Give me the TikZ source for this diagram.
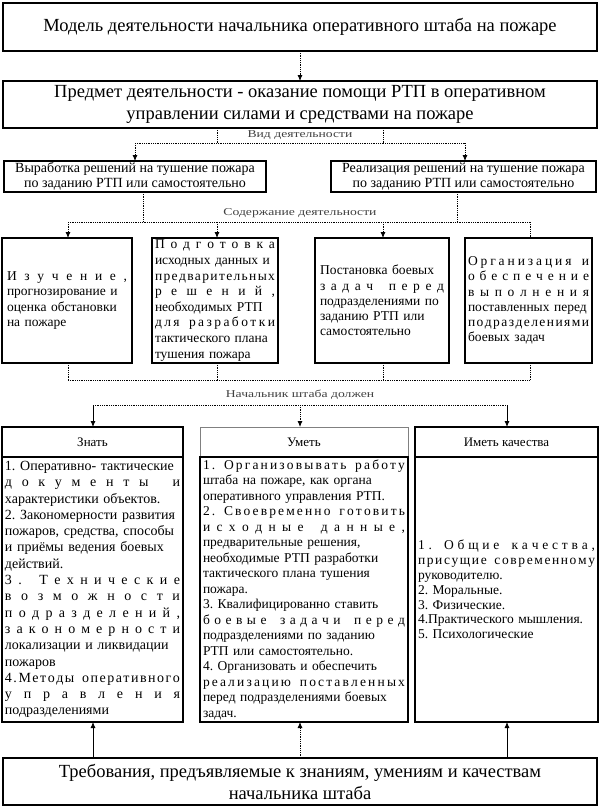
\documentclass[tikz,border=0pt]{standalone}
\usepackage{fontspec}
\setmainfont{Liberation Serif}
\usepackage{graphicx}
\usetikzlibrary{arrows.meta,positioning}
\frenchspacing

% justified line / letter-spread line
\newcommand\jl[1]{\makebox[\linewidth][s]{#1}}
\makeatletter
\def\spr@end{}
\newcommand\spr[1]{\makebox[\linewidth][s]{\spr@a#1\spr@end}}
\def\spr@a#1{#1\futurelet\spr@next\spr@b}
\def\spr@b{\ifx\spr@next\spr@end\expandafter\@gobble\else\hfill\expandafter\spr@a\fi}
\makeatother

\begin{document}
\begin{tikzpicture}[x=1pt,y=-1pt,
   box/.style={draw,line width=2.4pt,outer sep=0pt,inner sep=0pt,align=center},
   big/.style={box,minimum width=594pt,font=\fontsize{18.5}{22}\selectfont},
   mid/.style={box,minimum height=31pt,font=\fontsize{14}{14.5}\selectfont},
   card/.style={box,minimum height=125pt,align=left,font=\fontsize{13.5}{15.2}\selectfont},
   head/.style={box,minimum height=30pt,font=\fontsize{13}{15}\selectfont},
   body/.style={box,minimum height=265pt,align=left,inner xsep=3pt},
   lbl/.style={inner sep=1pt,text=black!75,font=\fontsize{10.5}{12}\selectfont},
   link/.style={densely dotted,line width=0.8pt},
   plain/.style={line width=0.8pt},
   tip/.style={-{Latex[length=6pt,width=5pt]}}]
  \fill[white] (0,0) rectangle (601,808);
  \useasboundingbox (0,0) rectangle (601,808);

  \node[big,minimum height=48pt] (model) at (300,27)
    {Модель деятельности начальника оперативного штаба на пожаре};
  \node[big,minimum height=47pt] (subj) at (300,104.5)
    {Предмет деятельности - оказание помощи РТП в оперативном\\управлении силами и средствами на пожаре};
  \draw[link,tip] (model) -- (subj);

  % kind of activity
  \node[mid,minimum width=262pt] (dev) at (135,176.5)
    {Выработка решений на тушение пожара\\по заданию РТП или самостоятельно};
  \node[mid,minimum width=265pt] (impl) at (463.5,176.5)
    {Реализация решений на тушение пожара\\по заданию РТП или самостоятельно};
  \node[lbl] (kind) at (300,135.5) {\scalebox{1.3}[1]{Вид деятельности}};
  \coordinate (kl) at (217,143);
  \coordinate (kr) at (383,143);
  \coordinate (ka) at (135,143);
  \coordinate (kb) at (465,143);
  \draw[link] (subj.south -| kl) -- (kl);
  \draw[link] (subj.south -| kr) -- (kr);
  \draw[link] (ka) -- (kb);
  \draw[link,tip] (ka) -- (dev.north -| ka);
  \draw[link,tip] (kb) -- (impl.north -| kb);

  % content of activity
  \node[card,text width=120pt,inner xsep=5pt] (study) at (67,300.5)
    {\spr{Изучение,}\\
     \jl{прогнозирование и}\\
     \jl{оценка обстановки}\\
     на пожаре};
  \node[card,text width=120pt,inner xsep=3pt,font=\fontsize{13.5}{15.6}\selectfont] (prep) at (215,300.5)
    {\spr{Подготовка}\\
     \jl{исходных данных и}\\
     \spr{предварительных}\\
     \spr{решений,}\\
     \jl{необходимых РТП}\\
     \spr{для~разработки}\\
     \jl{тактического плана}\\
     тушения пожара};
  \node[card,text width=124pt,inner xsep=5pt] (task) at (382,300.5)
    {\jl{Постановка боевых}\\
     \spr{задач~перед}\\
     \jl{подразделениями по}\\
     \jl{заданию РТП или}\\
     самостоятельно};
  \node[card,text width=121pt,inner xsep=3pt] (org) at (528.5,300.5)
    {\spr{Организация~и}\\
     \spr{обеспечение}\\
     \spr{выполнения}\\
     \jl{поставленных перед}\\
     \spr{подразделениями}\\
     боевых задач};
  \node[lbl] (cont) at (300,213) {\scalebox{1.3}[1]{Содержание деятельности}};
  \coordinate (d1) at (143,222);
  \coordinate (d2) at (457,222);
  \coordinate (c1) at (68,222);
  \coordinate (c2) at (217,222);
  \coordinate (c3) at (383,222);
  \coordinate (c4) at (530,222);
  \draw[link] (dev.south -| d1) -- (d1);
  \draw[link] (impl.south -| d2) -- (d2);
  \draw[link] (c1) -- (c4);
  \draw[link,tip] (c1) -- (study.north -| c1);
  \draw[link,tip] (c2) -- (prep.north -| c2);
  \draw[link,tip] (c3) -- (task.north -| c3);
  \draw[link] (c4) -- (org.north -| c4);

  \coordinate (e1) at (68,380);
  \coordinate (e2) at (217,380);
  \coordinate (e3) at (383,380);
  \coordinate (e4) at (530,380);
  \draw[link] (study.south -| e1) -- (e1);
  \draw[link] (prep.south -| e2) -- (e2);
  \draw[link] (task.south -| e3) -- (e3);
  \draw[link] (org.south -| e4) -- (e4);
  \draw[link] (e1) -- (e4);

  % what the chief must
  \node[lbl] (chief) at (300,395) {\scalebox{1.3}[1]{Начальник штаба должен}};
  \node[head,minimum width=181pt] (knowh) at (92.5,442) {Знать};
  \node[body,below=0pt of knowh,text width=175pt,font=\fontsize{14}{16.3}\selectfont] (knowb)
    {\jl{1. Оперативно- тактические}\\
     \spr{документы~и}\\
     характеристики объектов.\\
     \jl{2. Закономерности развития}\\
     \jl{пожаров, средства, способы}\\
     \jl{и приёмы ведения боевых}\\
     действий.\\
     \spr{3.~Технические}\\
     \spr{возможности}\\
     \spr{подразделений,}\\
     \spr{закономерности}\\
     \jl{локализации и ликвидации}\\
     пожаров\\
     \spr{4.Методы~оперативного}\\
     \spr{управления}\\
     подразделениями};
  \node[head,minimum width=208pt,draw=black!50,line width=0.8pt] (skillh) at (304,442) {Уметь};
  \node[body,below=0pt of skillh,text width=202pt,font=\fontsize{13.5}{15.5}\selectfont] (skillb)
    {\spr{1.~Организовывать~работу}\\
     \jl{штаба на пожаре, как органа}\\
     оперативного управления РТП.\\
     \spr{2.~Своевременно~готовить}\\
     \spr{исходные~данные,}\\
     \jl{предварительные решения,}\\
     \jl{необходимые РТП разработки}\\
     \jl{тактического плана тушения}\\
     пожара.\\
     \jl{3. Квалифицированно ставить}\\
     \spr{боевые~задачи~перед}\\
     \jl{подразделениями по заданию}\\
     РТП или самостоятельно.\\
     \jl{4. Организовать и обеспечить}\\
     \spr{реализацию~поставленных}\\
     \jl{перед подразделениями боевых}\\
     задач.};
  \node[head,minimum width=183pt] (qualh) at (506.5,442) {Иметь качества};
  \node[body,below=0pt of qualh,text width=177pt,font=\fontsize{13.5}{14.8}\selectfont] (qualb)
    {\spr{1.~Общие~качества,}\\
     \spr{присущие~современному}\\
     руководителю.\\
     2. Моральные.\\
     3. Физические.\\
     4.Практического мышления.\\
     5. Психологические};
  \coordinate (f1) at (93,405);
  \coordinate (f2) at (300,405);
  \coordinate (f3) at (507,405);
  \draw[link] (f1) -- (f3);
  \draw[plain,tip] (f1) -- (knowh.north -| f1);
  \draw[link,tip] (f2) -- (skillh.north -| f2);
  \draw[plain,tip] (f3) -- (qualh.north -| f3);

  % requirements
  \node[big,minimum height=47pt] (req) at (300,781.5)
    {Требования, предъявляемые к знаниям, умениям и качествам\\начальника штаба};
  \draw[plain,tip] (req.north -| f1) -- (knowb.south -| f1);
  \draw[link,tip] (req.north -| f2) -- (skillb.south -| f2);
  \draw[plain,tip] (req.north -| f3) -- (qualb.south -| f3);
\end{tikzpicture}
\end{document}
